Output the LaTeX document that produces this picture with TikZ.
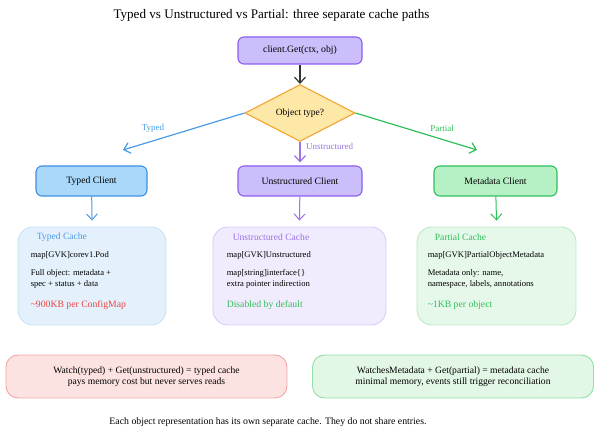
\documentclass[tikz,border=0pt]{standalone}
\usepackage{fontspec}
\setmainfont{Liberation Serif}
\usetikzlibrary{shapes.geometric,arrows.meta}
\definecolor{getfill}{HTML}{CCBEFA}
\definecolor{getline}{HTML}{8B5CF0}
\definecolor{askfill}{HTML}{FDE8A8}
\definecolor{askline}{HTML}{F2A531}
\definecolor{typedfill}{HTML}{A9D8FA}
\definecolor{typedline}{HTML}{3E8FE0}
\definecolor{typedtext}{HTML}{4B9BE8}
\definecolor{unfill}{HTML}{CCBEFA}
\definecolor{unline}{HTML}{8B5CF0}
\definecolor{untext}{HTML}{9B72E8}
\definecolor{metafill}{HTML}{B6F0C5}
\definecolor{metaline}{HTML}{2FBF5A}
\definecolor{metatext}{HTML}{2FBF5A}
\definecolor{typedcfill}{HTML}{E4F1FD}
\definecolor{typedcline}{HTML}{C3E0FA}
\definecolor{uncfill}{HTML}{F1ECFD}
\definecolor{uncline}{HTML}{D8CAFA}
\definecolor{partcfill}{HTML}{E6F8EA}
\definecolor{partcline}{HTML}{BAEAC6}
\definecolor{costred}{HTML}{E8433F}
\definecolor{warnfill}{HTML}{FDE2E2}
\definecolor{warnline}{HTML}{F2A6A6}
\definecolor{okfill}{HTML}{E2F7E6}
\definecolor{okline}{HTML}{92DFA7}
\begin{document}
\begin{tikzpicture}[x=1pt,y=-1pt,
    clientbox/.style={draw, rounded corners=6pt, line width=1.1pt, minimum height=30pt,
      font=\fontsize{9.7}{11}\selectfont},
    cachebox/.style={draw, rounded corners=15pt, line width=0.9pt, minimum height=98pt},
    cachetitle/.style={anchor=west, inner sep=0pt, font=\fontsize{9.6}{11}\selectfont},
    cachebody/.style={anchor=west, inner sep=0pt, align=left, font=\fontsize{8.6}{11}\selectfont},
    cachecost/.style={anchor=west, inner sep=0pt, font=\fontsize{9.7}{11}\selectfont},
    notebox/.style={draw, rounded corners=12pt, line width=0.9pt, minimum width=281pt,
      minimum height=43pt, align=center, font=\fontsize{9.6}{11}\selectfont},
    edgelabel/.style={inner sep=0pt, font=\fontsize{9}{11}\selectfont},
    flow/.style={line width=1.2pt, -{Straight Barb[length=6pt,width=11pt]}}]
  \useasboundingbox (0,0) rectangle (600,435);
  % title and entry point
  \node[font=\fontsize{13.1}{15}\selectfont] (title) at (271.5,15) {Typed vs Unstructured vs Partial: three separate cache paths};
  \node[clientbox, fill=getfill, draw=getline, minimum width=124pt, minimum height=27pt] (get) at (300,50.5) {client.Get(ctx, obj)};
  \node[diamond, draw=askline, fill=askfill, line width=1.1pt, minimum width=110pt, minimum height=48pt,
    inner sep=0pt, font=\fontsize{9.5}{11}\selectfont] (ask) at (300,113) {Object type?};
  \draw[flow, black!80] (get) -- (ask);
  % three clients
  \node[clientbox, fill=typedfill, draw=typedline, minimum width=111pt] (typedclient) at (91.5,181) {Typed Client};
  \node[clientbox, fill=unfill, draw=unline, minimum width=124pt] (unclient) at (300,181) {Unstructured Client};
  \node[clientbox, fill=metafill, draw=metaline, minimum width=123pt] (metaclient) at (495.5,181) {Metadata Client};
  \coordinate (typedtip) at (123,150);
  \coordinate (partialtip) at (477,150);
  \draw[flow, typedtext] (ask.west) -- (typedtip);
  \draw[flow, metaline] (ask.east) -- (partialtip);
  \draw[flow, untext] (ask.south) -- ([yshift=3pt]unclient.north);
  \node[edgelabel, text=typedtext] (typedlabel) at (153,128) {Typed};
  \node[edgelabel, text=metatext] (partiallabel) at (442,128) {Partial};
  \node[edgelabel, text=untext, anchor=west] (unlabel) at (306,146) {Unstructured};
  % caches
  \node[cachebox, fill=typedcfill, draw=typedcline, minimum width=148pt] (typedcache) at (92,276) {};
  \node[cachebox, fill=uncfill, draw=uncline, minimum width=173pt] (uncache) at (299.5,276) {};
  \node[cachebox, fill=partcfill, draw=partcline, minimum width=159pt] (partialcache) at (496.5,276) {};
  \draw[flow, line width=1pt, typedtext] (typedclient) -- ([yshift=6pt]typedcache.north);
  \draw[flow, line width=1pt, untext] (unclient) -- ([yshift=6pt]uncache.north);
  \draw[flow, line width=1pt, metaline] (metaclient) -- ([yshift=6pt]partialcache.north);
  % typed cache text
  \node[cachetitle, text=typedtext] (typedhead) at ([shift={(19,11)}]typedcache.north west) {Typed Cache};
  \node[cachebody] (typedmap) at ([shift={(13,29)}]typedcache.north west) {map[GVK]corev1.Pod};
  \node[cachebody] (typedwhat) at ([shift={(13,52.5)}]typedcache.north west) {Full object: metadata +\\spec + status + data};
  \node[cachecost, text=costred] (typedcost) at ([shift={(13,79)}]typedcache.north west) {\textasciitilde900KB per ConfigMap};
  % unstructured cache text
  \node[cachetitle, text=untext] (unhead) at ([shift={(20,11)}]uncache.north west) {Unstructured Cache};
  \node[cachebody] (unmap) at ([shift={(14,29)}]uncache.north west) {map[GVK]Unstructured};
  \node[cachebody] (unwhat) at ([shift={(14,52.5)}]uncache.north west) {map[string]interface\{\}\\extra pointer indirection};
  \node[cachecost, text=metatext] (uncost) at ([shift={(14,79)}]uncache.north west) {Disabled by default};
  % partial cache text
  \node[cachetitle, text=metatext] (partialhead) at ([shift={(18,11)}]partialcache.north west) {Partial Cache};
  \node[cachebody] (partialmap) at ([shift={(11,29)}]partialcache.north west) {map[GVK]PartialObjectMetadata};
  \node[cachebody] (partialwhat) at ([shift={(11,52.5)}]partialcache.north west) {Metadata only: name,\\namespace, labels, annotations};
  \node[cachecost, text=metatext] (partialcost) at ([shift={(11,79)}]partialcache.north west) {\textasciitilde1KB per object};
  % notes
  \node[notebox, fill=warnfill, draw=warnline] (warnnote) at (146.5,376.5) {Watch(typed) + Get(unstructured) = typed cache\\pays memory cost but never serves reads};
  \node[notebox, fill=okfill, draw=okline] (oknote) at (453,376.5) {WatchesMetadata + Get(partial) = metadata cache\\minimal memory, events still trigger reconciliation};
  \node[font=\fontsize{9.8}{11}\selectfont] (footer) at (268,422) {Each object representation has its own separate cache. They do not share entries.};
\end{tikzpicture}
\end{document}
